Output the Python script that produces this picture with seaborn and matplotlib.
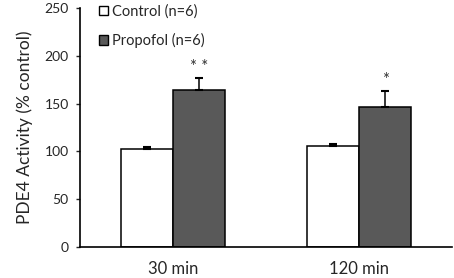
import matplotlib
matplotlib.use("Agg")
import matplotlib.pyplot as plt
import numpy as np
import pandas as pd
import seaborn as sns
from matplotlib.patches import Patch

# values
times = ["30 min", "120 min"]
groups = ["Control (n=6)", "Propofol (n=6)"]
control_mean = [103, 106]
control_sem = [2, 1.5]
propofol_mean = [164.5, 146.5]
propofol_sem = [12.5, 16.5]
stars = ["* *", "*"]

colors = {"Control (n=6)": "#ffffff", "Propofol (n=6)": "#595959"}

df = pd.DataFrame({
    "time": times * 2,
    "group": [groups[0]] * 2 + [groups[1]] * 2,
    "value": control_mean + propofol_mean,
    "err": control_sem + propofol_sem,
})

sns.set_style("white")
plt.rcParams["font.family"] = ["Lato", "DejaVu Sans"]

fig = plt.figure(figsize=(4.54, 2.78), dpi=100)
ax = fig.add_axes([0.176, 0.1115, 0.82, 0.86])

sns.barplot(data=df, x="time", y="value", hue="group", order=times,
            hue_order=groups, palette=colors, width=0.56, edgecolor="black",
            linewidth=1.1, errorbar=None, legend=False, ax=ax)

# one-sided error bars, taken from the drawn bars
for i, g in enumerate(groups):
    sub = df[df["group"] == g].set_index("time").loc[times]
    cont = ax.containers[i]
    xs = [p.get_x() + p.get_width() / 2 for p in cont.patches]
    ax.errorbar(xs, sub["value"], yerr=[np.zeros(len(xs)), sub["err"]],
                fmt="none", ecolor="black", elinewidth=1.1, capsize=3,
                capthick=1.5, zorder=1)
    if g == groups[1]:
        for x, v, e, s in zip(xs, sub["value"], sub["err"], stars):
            ax.text(x, v + e + 3, s, ha="center", va="bottom", fontsize=12,
                    color="#333333")

ax.set_ylim(0, 250)
ax.set_xlim(-0.5, 1.5)
ax.set_yticks(range(0, 251, 50))
ax.set_xlabel("")
ax.set_ylabel("PDE4 Activity (% control)", fontsize=12.5, labelpad=8)
ax.tick_params(axis="y", labelsize=10, length=3, width=1, left=True,
               direction="out", pad=5)
ax.tick_params(axis="x", labelsize=12, length=0, pad=10)
sns.despine(ax=ax)
for side in ["left", "bottom"]:
    ax.spines[side].set_linewidth(1.2)
    ax.spines[side].set_color("black")

handles = [Patch(facecolor=colors[g], edgecolor="black", linewidth=1) for g in groups]
ax.legend(handles, groups, loc="upper left", bbox_to_anchor=(0.035, 1.04),
          frameon=False, fontsize=10.5, handlelength=0.6, handleheight=0.6,
          handletextpad=0.3, labelspacing=1.0, borderaxespad=0)

fig.savefig("out.png", dpi=100)
